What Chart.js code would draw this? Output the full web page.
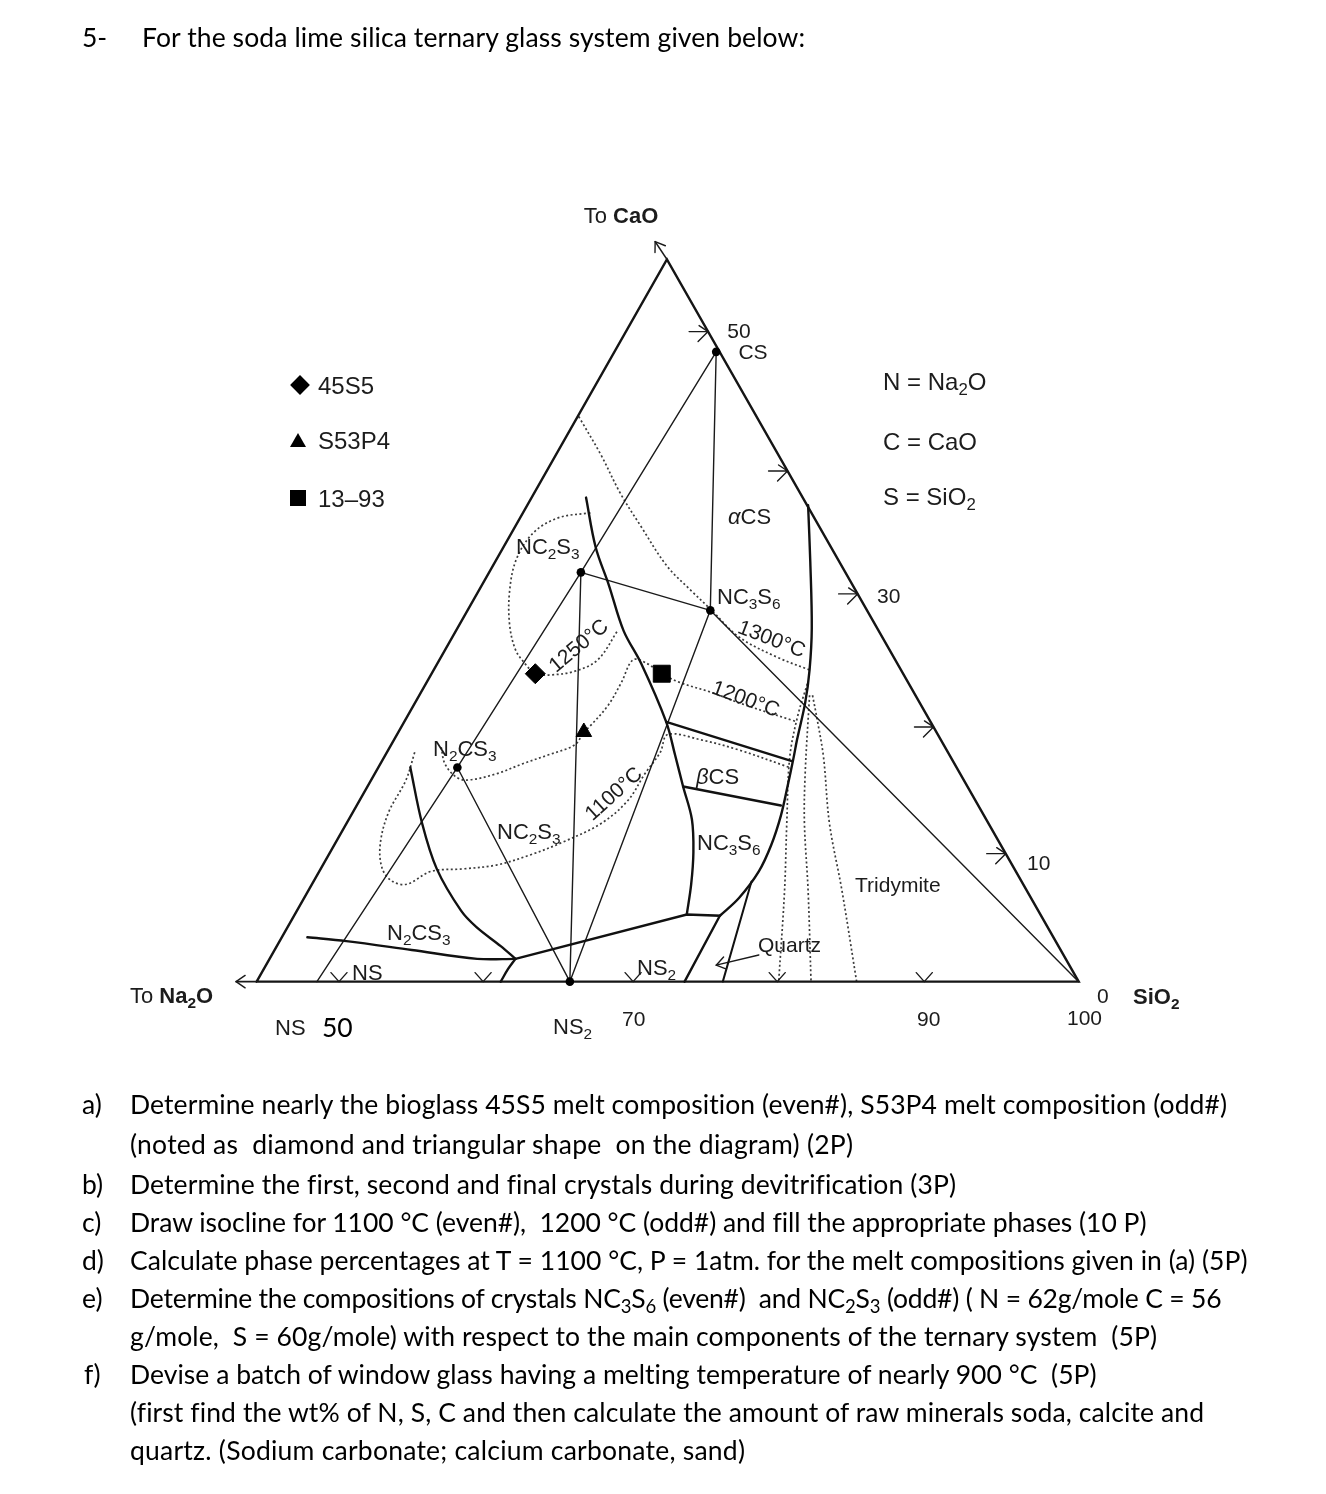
<!DOCTYPE html>
<html><head><meta charset="utf-8">
<script src="https://cdn.jsdelivr.net/npm/chart.js@4"></script>
<style>
html,body{margin:0;padding:0;background:#fff;}
body{width:1326px;height:1494px;position:relative;overflow:hidden;}
#c{position:absolute;left:0;top:0;}
#ov{position:absolute;left:0;top:0;width:1326px;height:1494px;pointer-events:none;}
.lb{position:absolute;font-family:"Liberation Sans",Arial,sans-serif;color:#1c1c1c;white-space:nowrap;}
.lb sub,.q sub{font-size:0.7em;vertical-align:baseline;position:relative;top:0.32em;line-height:0;}
.q{position:absolute;font-family:Lato,"Open Sans",sans-serif;font-size:26.5px;line-height:26.5px;height:26.5px;color:#000;white-space:pre;}
.shape{position:absolute;background:#000;}
</style></head>
<body>
<canvas id="c" width="1326" height="1060"></canvas>
<div id="ov"></div>
<script>
// ===== DATA: compositions in mol %, each point = [SiO2, CaO] (Na2O = rest) =====
const compoundNames = ['CS', 'NC2S3', 'NC3S6', 'N2CS3', 'NS2'];
const compoundSiO2  = [50.5, 50.0, 60.3, 49.3, 65.4];
const compoundCaO   = [49.7, 32.3, 29.3, 16.9, 0.0];

const glassNames = ['45S5', 'S53P4', '13–93'];
const glassSiO2  = [50.9, 56.5, 59.5];
const glassCaO   = [24.3, 19.7, 24.3];

const frameEdge   = [[44.1,0],[100,0],[43.5,57.0],[44.1,0]];
const baseArrow   = [[44.1,0],[42.7,0]];
const apexArrow   = [[43.5,57.0],[42.0,58.4]];
const quartzArrow = [[77.2,2.1],[74.7,1.3]];

const sio2TickValues = [49.7, 59.5, 69.7, 79.5, 89.5];
const caoTickValues  = [51.3, 40.3, 30.6, 20.1, 10.1];

// joins (tie lines)
const joinCS_NS       = [[50.5,49.7],[50.0,32.3],[49.3,16.9],[48.2,0]];
const joinNC2S3_NC3S6 = [[50.0,32.3],[60.3,29.3]];
const joinCS_NC3S6    = [[50.5,49.7],[60.3,29.3]];
const joinNC3S6_S     = [[60.3,29.3],[100,0]];
const joinNC2S3_NS2   = [[50.0,32.3],[65.4,0]];
const joinN2CS3_NS2   = [[49.3,16.9],[65.4,0]];
const joinNS2_NC3S6   = [[65.4,0],[60.3,29.3]];

// field boundaries
const bN2CS3    = [[46.1,16.9],[49.1,12.5],[51.9,8.9],[55.2,5.6],[56.9,4.3],[59.3,2.8],[60.8,1.8]];
const bNS       = [[45.8,3.5],[48.6,3.2],[53.4,2.5],[58.2,1.8],[60.8,1.8]];
const bNS_NS2   = [[60.8,1.8],[60.7,1.0],[60.7,0]];
const bNS2      = [[60.8,1.8],[70.7,5.3],[73.0,5.2],[73.2,0]];
const bQuartzTr = [[73.8,7.9],[75.8,0]];
const bSilica   = [[62.8,37.6],[65.2,33.1],[67.9,27.9],[69.4,24.6],[70.4,22.0],[71.3,19.1],[71.8,17.6],[72.5,15.4],[73.2,13.1],[73.7,10.8],[73.9,8.7],[73.6,6.6],[73.0,5.2]];
const bNC2S3    = [[47.4,38.2],[50.0,34.3],[52.4,31.3],[55.2,27.7],[57.7,25.1],[61.7,20.5],[63.6,17.9],[65.4,15.4],[67.3,12.8],[68.7,10.2],[69.8,7.7],[70.7,5.3]];
const bBetaTop  = [[61.7,20.5],[71.8,17.4]];
const bBetaBot  = [[65.4,15.4],[72.8,13.9]];

// isotherms (dotted)
const iso1300 = [[43.7,44.6],[46.7,41.6],[49.6,38.5],[52.3,35.9],[55.6,32.8],[58.3,30.8],[60.4,29.3],[63.3,27.2],[66.7,25.6],[69.4,24.6]];
const iso1250 = [[48.3,37.0],[46.3,36.6],[45.2,35.4],[45.1,33.3],[45.9,30.8],[47.2,28.2],[48.6,26.2],[49.8,25.1],[50.9,24.3],[51.9,24.2],[53.5,24.5],[54.6,25.4],[54.8,27.7]];
const iso1200 = [[47.4,18.5],[48.3,17.2],[49.5,16.2],[50.4,15.9],[52.2,16.4],[53.6,17.2],[55.0,17.9],[56.4,18.7],[56.5,19.7],[56.7,20.2],[57.1,21.8],[57.1,23.6],[57.0,25.4],[58.1,25.1],[59.5,24.3],[61.1,23.6],[63.7,22.8],[65.9,22.0],[70.6,20.5]];
const iso1100 = [[45.8,18.1],[46.3,15.9],[46.4,13.3],[47.1,10.8],[48.2,8.9],[49.4,7.9],[50.5,7.7],[51.6,8.7],[53.7,8.9],[55.8,9.2],[57.7,10.0],[59.4,11.0],[61.3,12.5],[62.2,14.3],[62.3,16.4],[62.5,18.1],[62.3,19.5],[64.7,19.1],[67.7,18.3],[71.9,16.9]];
const isoSilica1 = [[69.8,23.5],[70.4,21.0],[71.5,17.7],[73.9,12.5],[76.4,7.2],[79.6,0]];
const isoSilica2 = [[70.4,22.6],[73.2,16.4],[75.1,12.5],[78.0,7.2],[81.8,0]];
const isoSilica3 = [[70.6,22.6],[71.8,20.8],[73.8,17.7],[76.8,12.5],[80.3,7.2],[84.9,0]];

// ===== ternary -> cartesian =====
const H = Math.sqrt(3) / 2;
const toXY = p => ({ x: p[0] + p[1] / 2, y: p[1] * H });

const INK = '#1a1a1a';
const line = (pts, o) => Object.assign({ data: pts.map(toXY), showLine: true, pointRadius: 0, borderColor: INK,
  borderWidth: 1.4, tension: 0, fill: false, clip: false, borderCapStyle: 'round' }, o || {});
const thick = { borderWidth: 2.4, tension: 0.35, borderColor: '#111' };
const dotted = { borderWidth: 1.7, borderDash: [2, 2.5], borderColor: '#3c3c3c', tension: 0.35, borderCapStyle: 'butt' };

// listed bottom layer first; reversed below because Chart.js paints dataset 0 on top
const layers = [
  line(iso1300, dotted), line(iso1250, dotted), line(iso1200, dotted), line(iso1100, dotted),
  line(isoSilica1, dotted), line(isoSilica2, dotted), line(isoSilica3, dotted),
  line(frameEdge, { borderWidth: 2.4, borderColor: '#151515' }),
  line(baseArrow, { borderWidth: 1.6 }), line(apexArrow, { borderWidth: 1.6 }), line(quartzArrow, { borderWidth: 1.4 }),
  line(joinCS_NS), line(joinNC2S3_NC3S6), line(joinCS_NC3S6), line(joinNC3S6_S),
  line(joinNC2S3_NS2), line(joinN2CS3_NS2), line(joinNS2_NC3S6),
  line(bN2CS3, thick), line(bNS, thick), line(bNS_NS2, thick), line(bNS2, Object.assign({}, thick, { tension: 0 })),
  line(bQuartzTr, Object.assign({}, thick, { tension: 0, borderWidth: 2 })), line(bSilica, thick), line(bNC2S3, thick),
  line(bBetaTop, Object.assign({}, thick, { tension: 0 })), line(bBetaBot, Object.assign({}, thick, { tension: 0 })),
  { data: compoundSiO2.map((s, i) => toXY([s, compoundCaO[i]])), showLine: false, pointRadius: 4.3,
    pointBackgroundColor: '#000', pointBorderWidth: 0, clip: false },
  { data: glassSiO2.map((s, i) => toXY([s, glassCaO[i]])), showLine: false, clip: false,
    pointStyle: ['rectRot', 'triangle', 'rect'], pointRadius: [10, 9, 12],
    pointBackgroundColor: '#000', pointBorderColor: '#000', pointBorderWidth: 1 }
];
const datasets = layers.slice().reverse();

// ===== decorations drawn through the scales: tick marks and arrow heads =====
const decor = {
  id: 'decor',
  afterDatasetsDraw(chart) {
    const ctx = chart.ctx, xs = chart.scales.x, ys = chart.scales.y;
    const P = p => { const q = toXY(p); return [xs.getPixelForValue(q.x), ys.getPixelForValue(q.y)]; };
    ctx.save();
    ctx.strokeStyle = INK; ctx.lineWidth = 1.4; ctx.lineCap = 'round'; ctx.lineJoin = 'round';
    sio2TickValues.forEach(t => {
      const [x, y] = P([t, 0]);
      ctx.beginPath(); ctx.moveTo(x - 8, y - 9); ctx.lineTo(x, y); ctx.lineTo(x + 8, y - 9); ctx.stroke();
    });
    const R = frameEdge[1], A = frameEdge[2];
    caoTickValues.forEach(c => {
      const f = c / A[1];
      const [x, y] = P([R[0] + (A[0] - R[0]) * f, c]);
      ctx.beginPath(); ctx.moveTo(x - 19, y); ctx.lineTo(x, y); ctx.lineTo(x - 10, y + 10);
      ctx.moveTo(x, y); ctx.lineTo(x - 9, y - 6); ctx.stroke();
    });
    const head = (from, to) => {
      const [x1, y1] = P(from), [x2, y2] = P(to);
      const a = Math.atan2(y2 - y1, x2 - x1);
      ctx.beginPath();
      [-1, 1].forEach(s => { const g = a + Math.PI + s * 0.6; ctx.moveTo(x2, y2); ctx.lineTo(x2 + 11 * Math.cos(g), y2 + 11 * Math.sin(g)); });
      ctx.stroke();
    };
    head(baseArrow[0], baseArrow[1]);
    head(apexArrow[0], apexArrow[1]);
    head(quartzArrow[0], quartzArrow[1]);
    ctx.restore();
  }
};

// pixel frame of the diagram: SiO2 corner of the base, 15 px per mol %
const PX = 15, X100 = 1087, Y0 = 993, W = 1326, HH = 1060;
new Chart(document.getElementById('c'), {
  type: 'scatter',
  data: { datasets },
  options: {
    responsive: false, animation: false, devicePixelRatio: 1,
    layout: { padding: 0 },
    plugins: { legend: { display: false }, tooltip: { enabled: false } },
    scales: {
      x: { type: 'linear', display: false, min: 100 - X100 / PX, max: 100 + (W - X100) / PX },
      y: { type: 'linear', display: false, min: -(HH - Y0) / PX, max: Y0 / PX }
    }
  },
  plugins: [decor]
});

// ===== text =====
const ov = document.getElementById('ov');
const labels = [
  ['To <b>CaO</b>', 621, 216, 22, 'c', 0],
  ['50', 739, 330, 21, 'c', 0],
  ['CS', 753, 351, 21, 'c', 0],
  ['45S5', 318, 386, 24, 'l', 0],
  ['S53P4', 318, 441, 24, 'l', 0],
  ['13–93', 318, 499, 24, 'l', 0],
  ['N = Na<sub>2</sub>O', 883, 382, 24, 'l', 0],
  ['C = CaO', 883, 442, 24, 'l', 0],
  ['S = SiO<sub>2</sub>', 883, 497, 24, 'l', 0],
  ['<i>α</i>CS', 728, 517, 22, 'l', 0],
  ['NC<sub>2</sub>S<sub>3</sub>', 516, 547, 22, 'l', 0],
  ['NC<sub>3</sub>S<sub>6</sub>', 717, 597, 22, 'l', 0],
  ['1300°C', 772, 638, 21, 'c', 21],
  ['1200°C', 746, 698, 21, 'c', 20],
  ['1250°C', 578, 645, 21, 'c', -40],
  ['N<sub>2</sub>CS<sub>3</sub>', 433, 749, 22, 'l', 0],
  ['<i>β</i>CS', 696, 777, 22, 'l', 0],
  ['1100°C', 613, 793, 21, 'c', -42],
  ['NC<sub>2</sub>S<sub>3</sub>', 497, 832, 22, 'l', 0],
  ['NC<sub>3</sub>S<sub>6</sub>', 697, 843, 22, 'l', 0],
  ['Tridymite', 855, 884, 21, 'l', 0],
  ['N<sub>2</sub>CS<sub>3</sub>', 387, 933, 22, 'l', 0],
  ['Quartz', 758, 944, 21, 'l', 0],
  ['NS', 352, 973, 22, 'l', 0],
  ['NS<sub>2</sub>', 637, 968, 22, 'l', 0],
  ['30', 877, 595, 21, 'l', 0],
  ['10', 1027, 862, 21, 'l', 0],
  ['To <b>Na<sub>2</sub>O</b>', 130, 996, 22, 'l', 0],
  ['0', 1097, 995, 21, 'l', 0],
  ['<b>SiO<sub>2</sub></b>', 1133, 997, 22, 'l', 0],
  ['100', 1067, 1017, 21, 'l', 0],
  ['90', 917, 1018, 21, 'l', 0],
  ['70', 622, 1018, 21, 'l', 0],
  ['NS<sub>2</sub>', 553, 1027, 22, 'l', 0],
  ['NS', 275, 1028, 22, 'l', 0]
];
labels.forEach(([h, x, y, f, a, r]) => {
  const d = document.createElement('div');
  d.className = 'lb'; d.innerHTML = h;
  d.style.cssText = `left:${x}px;top:${y}px;font-size:${f}px;line-height:${f}px;height:${f}px;transform:translate(${a === 'c' ? '-50%' : '0'},-50%) rotate(${r}deg);`;
  ov.appendChild(d);
});
// legend symbols
const shapes = [
  `left:293px;top:378px;width:14px;height:14px;transform:rotate(45deg);`,
  `left:290px;top:433px;width:16px;height:14px;clip-path:polygon(50% 0,100% 100%,0 100%);`,
  `left:290px;top:490px;width:16px;height:16px;`
];
shapes.forEach(s => { const d = document.createElement('div'); d.className = 'shape'; d.style.cssText = s; ov.appendChild(d); });

// [html, left x, centre y, right end x (0 = natural width)]
const qlines = [
  ['5-', 82, 38, 0], ['For the soda lime silica ternary glass system given below:', 142, 38, 805],
  ['50', 322, 1028, 0],
  ['a)', 82, 1105, 0], ['Determine nearly the bioglass 45S5 melt composition (even#), S53P4 melt composition (odd#)', 130, 1105, 1228],
  ['(noted as  diamond and triangular shape  on the diagram) (2P)', 130, 1145, 853],
  ['b)', 82, 1185, 0], ['Determine the first, second and final crystals during devitrification (3P)', 130, 1185, 955],
  ['c)', 82, 1223, 0], ['Draw isocline for 1100 °C (even#),  1200 °C (odd#) and fill the appropriate phases (10 P)', 130, 1223, 1146],
  ['d)', 82, 1261, 0], ['Calculate phase percentages at T = 1100 °C, P = 1atm. for the melt compositions given in (a) (5P)', 130, 1261, 1248],
  ['e)', 82, 1299, 0], ['Determine the compositions of crystals NC<sub>3</sub>S<sub>6</sub> (even#)  and NC<sub>2</sub>S<sub>3</sub> (odd#) ( N = 62g/mole C = 56', 130, 1299, 1222],
  ['g/mole,  S = 60g/mole) with respect to the main components of the ternary system  (5P)', 130, 1337, 1157],
  ['f)', 84, 1375, 0], ['Devise a batch of window glass having a melting temperature of nearly 900 °C  (5P)', 130, 1375, 1097],
  ['(first find the wt% of N, S, C and then calculate the amount of raw minerals soda, calcite and', 130, 1413, 1203],
  ['quartz. (Sodium carbonate; calcium carbonate, sand)', 130, 1451, 745]
];
qlines.forEach(([h, x, y, rEnd]) => {
  const d = document.createElement('div');
  d.className = 'q'; d.innerHTML = h;
  d.style.left = x + 'px'; d.style.top = (y - 14.5) + 'px';
  ov.appendChild(d);
  if (rEnd) {
    const w = d.getBoundingClientRect().width;
    const n = Math.max(1, d.textContent.length - 1);
    d.style.letterSpacing = ((rEnd - x - w) / n).toFixed(3) + 'px';
  }
});
</script>
</body></html>
